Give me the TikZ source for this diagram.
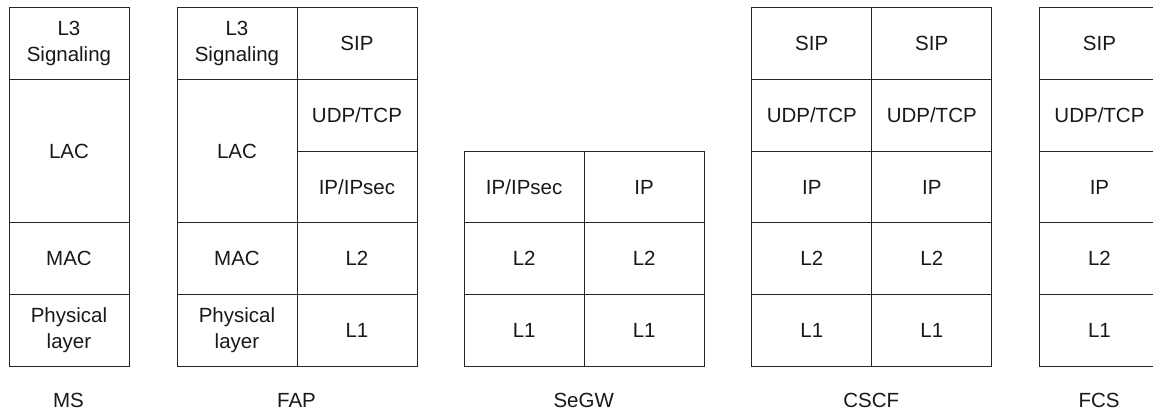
\documentclass[tikz,border=0pt]{standalone}
\usepackage{fontspec}
\setmainfont{Liberation Sans}
\begin{document}
\begin{tikzpicture}[x=1pt,y=-1pt,
  cell/.style={draw=black!85, line width=0.9pt, anchor=north west, inner sep=0pt,
    minimum width=120pt, minimum height=71.7pt, align=center,
    font=\fontsize{20.5}{25.5}\selectfont, text=black!90},
  dbl/.style={cell, minimum height=143.4pt},
  lab/.style={font=\fontsize{20.5}{24}\selectfont, text=black!90, inner sep=0pt}]
\useasboundingbox (0,0) rectangle (1153,414);
\fill[white] (0,0) rectangle (1153,414);
% MS
\node[cell] (ms1) at (8.5,7.3) {L3\\Signaling};
\node[dbl]  (ms2) at (8.5,79) {LAC};
\node[cell] (ms3) at (8.5,222.4) {MAC};
\node[cell] (ms4) at (8.5,294.1) {Physical\\layer};
\node[lab]  (msl) at (68.5,400) {MS};
% FAP
\node[cell] (fa1) at (176.5,7.3) {L3\\Signaling};
\node[dbl]  (fa2) at (176.5,79) {LAC};
\node[cell] (fa3) at (176.5,222.4) {MAC};
\node[cell] (fa4) at (176.5,294.1) {Physical\\layer};
\node[cell] (fb1) at (296.5,7.3) {SIP};
\node[cell] (fb2) at (296.5,79) {UDP/TCP};
\node[cell] (fb3) at (296.5,150.7) {IP/IPsec};
\node[cell] (fb4) at (296.5,222.4) {L2};
\node[cell] (fb5) at (296.5,294.1) {L1};
\node[lab]  (fapl) at (296.5,400) {FAP};
% SeGW
\node[cell] (sa1) at (463.7,150.7) {IP/IPsec};
\node[cell] (sa2) at (463.7,222.4) {L2};
\node[cell] (sa3) at (463.7,294.1) {L1};
\node[cell] (sb1) at (583.7,150.7) {IP};
\node[cell] (sb2) at (583.7,222.4) {L2};
\node[cell] (sb3) at (583.7,294.1) {L1};
\node[lab]  (segwl) at (583.7,400) {SeGW};
% CSCF
\node[cell] (ca1) at (751.3,7.3) {SIP};
\node[cell] (ca2) at (751.3,79) {UDP/TCP};
\node[cell] (ca3) at (751.3,150.7) {IP};
\node[cell] (ca4) at (751.3,222.4) {L2};
\node[cell] (ca5) at (751.3,294.1) {L1};
\node[cell] (cb1) at (871.3,7.3) {SIP};
\node[cell] (cb2) at (871.3,79) {UDP/TCP};
\node[cell] (cb3) at (871.3,150.7) {IP};
\node[cell] (cb4) at (871.3,222.4) {L2};
\node[cell] (cb5) at (871.3,294.1) {L1};
\node[lab]  (cscfl) at (871.3,400) {CSCF};
% FCS
\node[cell] (f1) at (1039,7.3) {SIP};
\node[cell] (f2) at (1039,79) {UDP/TCP};
\node[cell] (f3) at (1039,150.7) {IP};
\node[cell] (f4) at (1039,222.4) {L2};
\node[cell] (f5) at (1039,294.1) {L1};
\node[lab]  (fcsl) at (1099,400) {FCS};
\end{tikzpicture}
\end{document}
